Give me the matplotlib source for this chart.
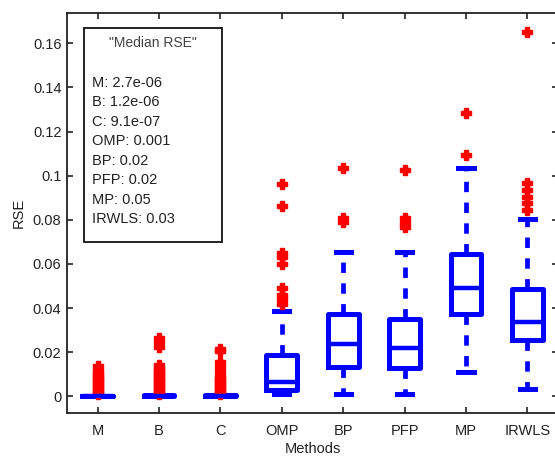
import numpy as np
import matplotlib
matplotlib.use('Agg')
import matplotlib.pyplot as plt
from matplotlib.patches import Rectangle

plt.rcParams['font.family'] = ['Liberation Sans', 'DejaVu Sans']

# Box statistics
methods = ['M', 'B', 'C', 'OMP', 'BP', 'PFP', 'MP', 'IRWLS']
q1     = [0.0,    0.0,    0.0,    0.0027, 0.0133, 0.0126, 0.0371, 0.0254]
med    = [0.0,    0.0002, 0.0002, 0.0065, 0.0239, 0.0219, 0.0491, 0.0337]
q3     = [0.0001, 0.0005, 0.0005, 0.0189, 0.0372, 0.0352, 0.0647, 0.0485]
whislo = [0.0,    0.0,    0.0,    0.0010, 0.0012, 0.0012, 0.0110, 0.0035]
whishi = [0.0002, 0.0007, 0.0007, 0.0387, 0.0655, 0.0655, 0.1033, 0.0803]

# Outliers
fl_M = [0.0008, 0.0016, 0.0024, 0.0032, 0.0040, 0.0048, 0.0056, 0.0064,
        0.0072, 0.0080, 0.0088, 0.0096, 0.0104, 0.0118, 0.0135]
fl_B = [0.0008, 0.0016, 0.0024, 0.0032, 0.0040, 0.0048, 0.0056, 0.0064,
        0.0072, 0.0080, 0.0088, 0.0096, 0.0104, 0.0112, 0.0120, 0.0130,
        0.0140, 0.0225, 0.0245, 0.0265]
fl_C = [0.0008, 0.0016, 0.0024, 0.0032, 0.0040, 0.0048, 0.0056, 0.0064,
        0.0072, 0.0080, 0.0090, 0.0110, 0.0132, 0.0155, 0.0205, 0.0212]
fl_OMP = [0.042, 0.044, 0.046, 0.049, 0.060, 0.063, 0.065, 0.0863, 0.096]
fl_BP = [0.079, 0.081, 0.1033]
fl_PFP = [0.0765, 0.0785, 0.0806, 0.1025]
fl_MP = [0.1093, 0.1285]
fl_IRWLS = [0.0844, 0.0875, 0.0905, 0.0935, 0.0965, 0.165]
fliers = [fl_M, fl_B, fl_C, fl_OMP, fl_BP, fl_PFP, fl_MP, fl_IRWLS]

legend_title = '"Median RSE"'
legend_lines = ['M: 2.7e-06', 'B: 1.2e-06', 'C: 9.1e-07', 'OMP: 0.001',
                'BP: 0.02', 'PFP: 0.02', 'MP: 0.05', 'IRWLS: 0.03']

yticks = [0, 0.02, 0.04, 0.06, 0.08, 0.1, 0.12, 0.14, 0.16]
yticklabels = ['0', '0.02', '0.04', '0.06', '0.08', '0.1', '0.12', '0.14', '0.16']

stats = []
for i in range(len(methods)):
    stats.append({'label': methods[i], 'q1': q1[i], 'med': med[i], 'q3': q3[i],
                  'whislo': whislo[i], 'whishi': whishi[i], 'fliers': fliers[i]})

fig = plt.figure(figsize=(5.55, 4.57), dpi=100)
ax = fig.add_axes([67/555, 44/457, 491/555, 399.7/457])

blue = '#0000ff'
ax.bxp(stats, positions=np.arange(1, len(methods)+1), widths=0.5, capwidths=0.25,
       boxprops=dict(color=blue, linewidth=3.6),
       medianprops=dict(color=blue, linewidth=3.2),
       whiskerprops=dict(color=blue, linewidth=3.4, linestyle=(0, (2.2, 2.2))),
       capprops=dict(color=blue, linewidth=3.6),
       flierprops=dict(marker='P', markerfacecolor='#ff0000', markeredgecolor='#ff0000',
                       markersize=7.5, markeredgewidth=1.0))

ax.set_xlim(0.5, 8.5)
ax.set_ylim(-0.0076, 0.1736)
ax.set_yticks(yticks)
ax.set_yticklabels(yticklabels)
ax.set_xticks(np.arange(1, len(methods)+1))
ax.set_xticklabels(methods)
ax.tick_params(direction='in', top=True, right=True, length=4.5, width=1.2,
               labelsize=10.5, colors='#222222')
ax.tick_params(axis='x', pad=8)
ax.tick_params(axis='y', pad=4)
for s in ax.spines.values():
    s.set_linewidth(1.3)
    s.set_color('#222222')

ax.set_xlabel('Methods', fontsize=10.5, labelpad=3, color='#222222')
ax.set_ylabel('RSE', fontsize=10.5, labelpad=5, color='#222222')

# Text box with medians
x0 = (84 - 67) / 491
x1 = (222 - 67) / 491
y0 = (413 - 242) / 399.7
y1 = (413 - 28) / 399.7
ax.add_patch(Rectangle((x0, y0), x1 - x0, y1 - y0, transform=ax.transAxes,
                       fill=False, edgecolor='#111111', linewidth=1.3, zorder=5))
ax.text((x0 + x1) / 2, (413 - 43.3) / 399.7, legend_title, transform=ax.transAxes,
        ha='center', va='center', fontsize=10, color='#444444')
for k, line in enumerate(legend_lines):
    ypix = 82.7 + 19.5 * k
    ax.text((92 - 67) / 491, (413 - ypix) / 399.7, line, transform=ax.transAxes,
            ha='left', va='center', fontsize=10.5, color='#222222')

fig.savefig('out.png', dpi=100)
